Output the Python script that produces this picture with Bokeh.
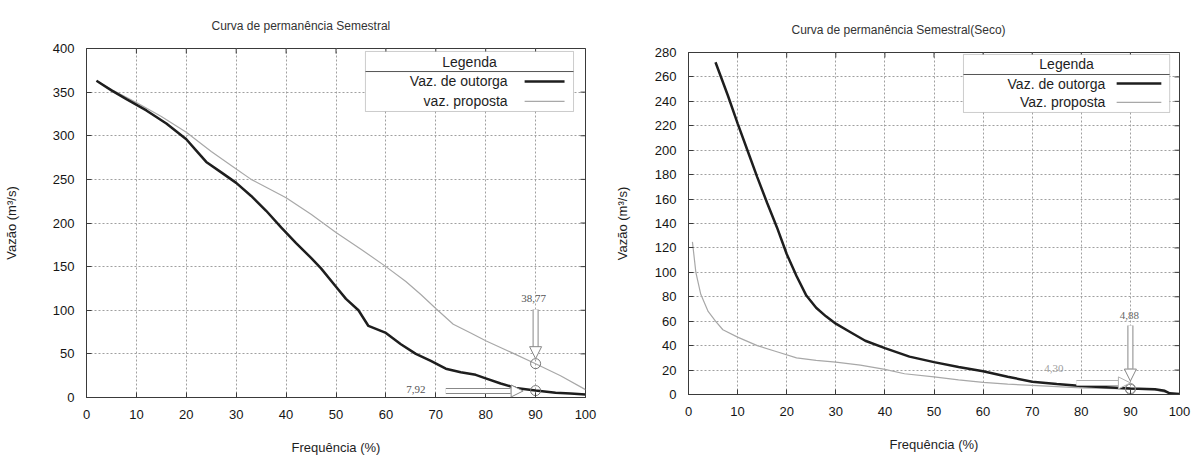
import math
from bokeh.plotting import figure
from bokeh.layouts import row, column
from bokeh.models import (Range1d, FixedTicker, Arrow, NormalHead, BoxAnnotation, Label)
from bokeh.embed import file_html
from bokeh.resources import INLINE

# ---------------- data ----------------
# Curva de permanência Semestral
sem_freq_outorga = [2, 5, 8, 12, 16, 20, 22, 24, 27, 30, 33, 36, 39, 42, 45, 47, 50, 52,
                    54.5, 56.5, 60, 63, 66, 69, 72, 75, 78, 80, 83, 86, 90, 94, 97, 100]
sem_vaz_outorga = [363, 352, 342, 329, 314, 296, 283, 270, 258, 246, 231, 214, 195, 177,
                   160, 148, 127, 113, 100, 82, 74, 61, 50, 42, 33, 29, 26, 22, 16, 11,
                   7.92, 5.5, 4.5, 3.5]
sem_freq_proposta = [2, 5, 10, 15, 20, 25, 30, 33, 36, 40, 45, 50, 55, 60, 64, 67, 70,
                     73.5, 77, 80, 85, 90, 95, 100]
sem_vaz_proposta = [363, 353, 338, 322, 304, 282, 262, 250, 241, 229, 210, 189, 170, 150,
                    133, 118, 102, 84, 74, 65, 52, 38.77, 25, 9]

# Curva de permanência Semestral (Seco)
seco_freq_outorga = [5.5, 8, 10, 12, 14, 16, 18, 20, 22, 24, 26, 28, 30, 33, 36, 40, 45,
                     50, 55, 60, 65, 70, 75, 80, 85, 90, 95, 97, 98, 100]
seco_vaz_outorga = [272, 245, 222, 200, 178, 157, 137, 115, 97, 81, 71, 64, 58, 51, 44,
                    38, 31, 26.5, 22.5, 19, 14.5, 10.5, 8.5, 7, 6, 4.88, 4.3, 3, 1, 0.5]
seco_freq_proposta = [0.8, 1.5, 2.5, 4, 5.5, 7, 10, 14, 18, 22, 26, 30, 35, 40, 44, 50,
                      55, 60, 65, 70, 75, 80, 85, 90, 95, 97, 98, 100]
seco_vaz_proposta = [125, 100, 82, 68, 60, 53, 47, 40, 35, 30, 28, 26.5, 24, 20.5, 17,
                     14.5, 12, 10, 8.5, 7.5, 6.5, 5.5, 5, 4.3, 3.8, 2, 1, 0.5]

x_ticks = [0, 10, 20, 30, 40, 50, 60, 70, 80, 90, 100]
sem_y_ticks = [0, 50, 100, 150, 200, 250, 300, 350, 400]
seco_y_ticks = list(range(0, 281, 20))

title_sem = "Curva de permanência Semestral"
title_seco = "Curva de permanência Semestral(Seco)"
legend_labels_sem = ["Vaz. de outorga", "vaz. proposta"]
legend_labels_seco = ["Vaz. de outorga", "Vaz. proposta"]

# annotated values (Q90)
ann_freq = 90
sem_q90_proposta, sem_q90_outorga = 38.77, 7.92
seco_q90_outorga, seco_q90_proposta = 4.88, 4.30

FONT = "Liberation Sans"
DARK = "#1e1e1e"
LIGHT = "#a8a8a8"
FRAME = "#3a3a3a"


def make_fig(title, ymax, yticks, fw, fh, mb, title_offset, title_standoff):
    p = figure(frame_width=fw, frame_height=fh, x_range=Range1d(0, 100),
               y_range=Range1d(0, ymax), output_backend="svg",
               toolbar_location=None, title=title,
               min_border_left=mb[0], min_border_right=mb[1],
               min_border_top=mb[2], min_border_bottom=mb[3])
    p.title.align = "left"
    p.title.offset = title_offset
    p.title.standoff = title_standoff
    p.title.text_font = FONT
    p.title.text_font_size = "12px"
    p.title.text_font_style = "normal"
    p.title.text_color = "#333333"
    p.outline_line_color = FRAME
    p.outline_line_width = 1
    p.background_fill_color = "white"
    p.border_fill_color = "white"

    p.xaxis.ticker = FixedTicker(ticks=x_ticks)
    p.yaxis.ticker = FixedTicker(ticks=yticks)
    p.xgrid.ticker = FixedTicker(ticks=x_ticks)
    p.ygrid.ticker = FixedTicker(ticks=yticks)
    for g in (p.xgrid, p.ygrid):
        g.grid_line_color = "#a0a0a0"
        g.grid_line_dash = "2 2"
        g.grid_line_width = 1
    for ax in (p.xaxis, p.yaxis):
        ax.major_tick_in = 5
        ax.major_tick_out = 0
        ax.minor_tick_in = 0
        ax.minor_tick_out = 0
        ax.axis_line_color = FRAME
        ax.major_tick_line_color = FRAME
        ax.major_label_text_font = FONT
        ax.major_label_text_font_size = "13px"
        ax.major_label_text_color = "#151515"
        ax.axis_label_text_font = FONT
        ax.axis_label_text_font_size = "13px"
        ax.axis_label_text_font_style = "normal"
        ax.axis_label_text_color = DARK
    p.xaxis.axis_label = "Frequência (%)"
    p.yaxis.axis_label = "Vazão (m³/s)"
    p.xaxis.major_label_standoff = 12
    p.xaxis.axis_label_standoff = 18
    p.yaxis.major_label_standoff = 12

    # mirrored inward ticks on the top and right edges (clipped to the frame)
    p.scatter(x_ticks, [ymax] * len(x_ticks), marker="dash", size=10, angle=math.pi / 2,
              line_color=FRAME, line_width=1)
    p.scatter([100] * len(yticks), yticks, marker="dash", size=10,
              line_color=FRAME, line_width=1)
    return p


def add_legend(p, box, sep_y, title_y, row_y, text_x, sample_x, labels):
    left, right, top, bottom = box
    p.add_layout(BoxAnnotation(left=left, right=right, top=top, bottom=bottom,
                               fill_color="white", fill_alpha=1.0,
                               line_color="#555555", line_width=1, level="annotation"))
    p.add_layout(Arrow(end=None, x_start=left, y_start=sep_y, x_end=right, y_end=sep_y,
                       line_color="#555555", line_width=1))
    p.add_layout(Label(x=(left + right) / 2, y=title_y, text="Legenda",
                       text_align="center", text_baseline="middle",
                       text_font=FONT, text_font_size="14px", text_color=DARK))
    styles = [(DARK, 2.5), (LIGHT, 1.2)]
    for lab, ry, (col, lw) in zip(labels, row_y, styles):
        p.add_layout(Label(x=text_x, y=ry, text=lab, text_align="right",
                           text_baseline="middle", text_font=FONT,
                           text_font_size="14px", text_color=DARK))
        p.add_layout(Arrow(end=None, x_start=sample_x[0], y_start=ry, x_end=sample_x[1],
                           y_end=ry, line_color=col, line_width=lw))


def block_arrow(p, start, head_base, tip, color):
    p.add_layout(Arrow(end=None, x_start=start[0], y_start=start[1],
                       x_end=head_base[0], y_end=head_base[1],
                       line_color=color, line_width=6))
    p.add_layout(Arrow(end=None, x_start=start[0], y_start=start[1],
                       x_end=head_base[0], y_end=head_base[1],
                       line_color="white", line_width=4))
    p.add_layout(Arrow(end=NormalHead(size=12, fill_color="white", line_color=color,
                                      line_width=1),
                       x_start=head_base[0], y_start=head_base[1],
                       x_end=tip[0], y_end=tip[1], line_alpha=0))


def ann_label(p, x, y, text, color):
    p.add_layout(Label(x=x, y=y, text=text, text_align="center", text_baseline="middle",
                       text_font="Liberation Sans Narrow", text_font_size="11px",
                       text_color=color))


# ---------------- left chart ----------------
p1 = make_fig(title_sem, 400, sem_y_ticks, 499, 349, (86, 15, 47, 58), 125, 32)
p1.yaxis[0].axis_label_standoff = 31
p1.line(sem_freq_proposta, sem_vaz_proposta, line_color=LIGHT, line_width=1.2)
p1.line(sem_freq_outorga, sem_vaz_outorga, line_color=DARK, line_width=2.5)

block_arrow(p1, (ann_freq, 101), (ann_freq, 58), (ann_freq, 44.5), "#888888")
block_arrow(p1, (72, 7.5), (85, 7.5), (87.5, 7.5), "#888888")
p1.scatter([ann_freq, ann_freq], [sem_q90_proposta, sem_q90_outorga], size=10,
           marker="circle", fill_color=None, line_color="#777777", line_width=1)
ann_label(p1, 89.6, 113.5, "38,77", "#555555")
ann_label(p1, 66, 9.5, "7,92", "#555555")

add_legend(p1, (55.9, 97.6, 396.6, 327.8), 373.6, 385.0, (362.2, 339.3), 84.4,
           (87.8, 95.8), legend_labels_sem)

# ---------------- right chart ----------------
p2 = make_fig(title_seco, 280, seco_y_ticks, 491, 342, (88, 12, 52, 60), 103, 32)
p2.yaxis[0].axis_label_standoff = 22
p2.line(seco_freq_proposta, seco_vaz_proposta, line_color=LIGHT, line_width=1.2)
p2.line(seco_freq_outorga, seco_vaz_outorga, line_color=DARK, line_width=2.5)

block_arrow(p2, (ann_freq, 56.5), (ann_freq, 21), (ann_freq, 11), "#888888")
block_arrow(p2, (79, 9.5), (87.5, 9.5), (90, 9.5), "#b0b0b0")
p2.scatter([ann_freq, ann_freq], [seco_q90_outorga, seco_q90_proposta], size=10,
           marker="circle", fill_color=None, line_color="#888888", line_width=1)
ann_label(p2, 89.8, 64.7, "4,88", "#666666")
ann_label(p2, 74.4, 21.3, "4,30", "#a0a0a0")

add_legend(p2, (56.0, 98.0, 278.4, 230.9), 262.0, 270.2, (254.6, 239.1), 84.9,
           (87.2, 96.3), legend_labels_seco)

layout = row(column(p1), column(p2))
open("out.html", "w").write(file_html(layout, INLINE))
